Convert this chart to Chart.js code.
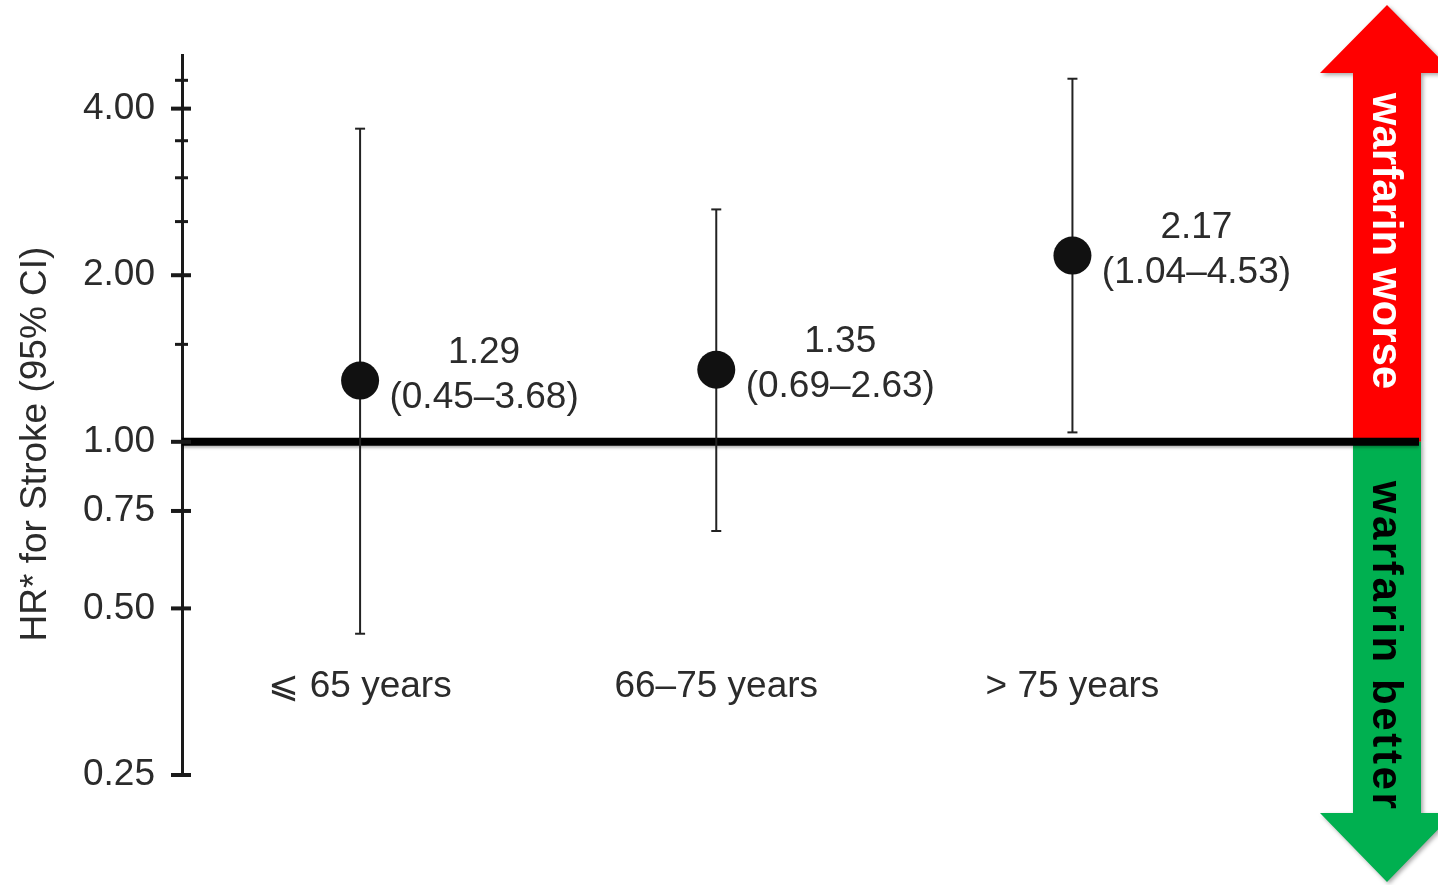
<!DOCTYPE html>
<html>
<head>
<meta charset="utf-8">
<script src="https://cdn.jsdelivr.net/npm/chart.js@4.4.1/dist/chart.umd.min.js"></script>
<style>
  html, body { margin: 0; padding: 0; background: #ffffff; }
  #wrap { width: 1438px; height: 885px; position: relative; }
</style>
</head>
<body>
<div id="wrap"><canvas id="chart"></canvas></div>
<script>
// Hazard ratios for stroke by age group, with 95% confidence intervals
const ageGroups = ['\u2A7D 65 years', '66\u201375 years', '> 75 years'];
const hazardRatio = [1.29, 1.35, 2.17];
const ciLower = [0.45, 0.69, 1.04];
const ciUpper = [3.68, 2.63, 4.53];

// Log-scale ticks on the HR axis; only some carry a label
const yTickValues = [0.25, 0.5, 0.75, 1, 1.5, 2, 2.5, 3, 3.5, 4, 4.5];
const yLabelledTicks = [0.25, 0.5, 0.75, 1, 2, 4];

const yTitle = 'HR* for Stroke (95% CI)';
const upLabel = 'warfarin worse';
const downLabel = 'warfarin better';

const FONT = "'Liberation Sans', Arial, Helvetica, sans-serif";
const TEXT = '#2b2b2b';
const SIZE = 37;

const fmt = v => v.toFixed(2);

// Vertical whiskers: one segment per group, broken by a gap point
const whiskerData = [];
ageGroups.forEach((g, i) => {
  whiskerData.push({ x: i + 1, y: ciLower[i] });
  whiskerData.push({ x: i + 1, y: ciUpper[i] });
  whiskerData.push({ x: i + 1, y: null });
});
const capData = [];
ageGroups.forEach((g, i) => {
  capData.push({ x: i + 1, y: ciLower[i] });
  capData.push({ x: i + 1, y: ciUpper[i] });
});
const pointData = hazardRatio.map((v, i) => ({ x: i + 1, y: v }));

function drawArrow(ctx, cx, baseY, tipY, headY, shaftHalf, headHalf, color) {
  ctx.save();
  ctx.shadowColor = 'rgba(0,0,0,0.35)';
  ctx.shadowBlur = 4;
  ctx.shadowOffsetX = 2;
  ctx.shadowOffsetY = 2;
  ctx.fillStyle = color;
  ctx.beginPath();
  ctx.moveTo(cx - shaftHalf, baseY);
  ctx.lineTo(cx - shaftHalf, headY);
  ctx.lineTo(cx - headHalf, headY);
  ctx.lineTo(cx, tipY);
  ctx.lineTo(cx + headHalf, headY);
  ctx.lineTo(cx + shaftHalf, headY);
  ctx.lineTo(cx + shaftHalf, baseY);
  ctx.closePath();
  ctx.fill();
  ctx.restore();
}

function drawRotatedText(ctx, text, x, y, font, color, spacing) {
  ctx.save();
  ctx.translate(x, y);
  ctx.rotate(Math.PI / 2);
  ctx.font = font;
  ctx.fillStyle = color;
  if (spacing && 'letterSpacing' in ctx) ctx.letterSpacing = spacing;
  ctx.textAlign = 'center';
  ctx.textBaseline = 'middle';
  ctx.fillText(text, 0, 0);
  ctx.restore();
}

const decorations = {
  id: 'decorations',
  beforeDatasetsDraw(chart) {
    const ctx = chart.ctx;
    const y = chart.scales.y;
    const area = chart.chartArea;
    const oneY = y.getPixelForValue(1);

    // Direction arrows at the right edge
    drawArrow(ctx, 1387, oneY, 5, 73, 34, 67, '#ff0000');
    drawArrow(ctx, 1387, oneY, 882, 813, 34, 67, '#00b050');
    drawRotatedText(ctx, upLabel, 1385, 241, 'bold 42px ' + FONT, '#ffffff');
    drawRotatedText(ctx, downLabel, 1385, 646, 'bold 42px ' + FONT, '#000000', '2.6px');

    // Reference line at HR = 1
    ctx.save();
    ctx.shadowColor = 'rgba(0,0,0,0.3)';
    ctx.shadowBlur = 3;
    ctx.shadowOffsetY = 2;
    ctx.strokeStyle = '#000000';
    ctx.lineWidth = 8;
    ctx.beginPath();
    ctx.moveTo(area.left, oneY);
    ctx.lineTo(area.right, oneY);
    ctx.stroke();
    ctx.restore();
  },
  afterDatasetsDraw(chart) {
    const ctx = chart.ctx;
    const xs = chart.scales.x;
    const ys = chart.scales.y;
    ctx.save();
    ctx.font = SIZE + 'px ' + FONT;
    ctx.fillStyle = TEXT;
    ctx.textAlign = 'center';
    ctx.textBaseline = 'middle';
    hazardRatio.forEach((v, i) => {
      const px = xs.getPixelForValue(i + 1);
      const py = ys.getPixelForValue(v);
      ctx.fillText(fmt(v), px + 124, py - 28);
      ctx.fillText('(' + fmt(ciLower[i]) + '\u2013' + fmt(ciUpper[i]) + ')', px + 124, py + 17);
    });
    ctx.restore();
  },
  afterDraw(chart) {
    const ctx = chart.ctx;
    const ys = chart.scales.y;
    const axisX = chart.chartArea.left;
    // Tick marks crossing the HR axis
    ctx.save();
    ctx.strokeStyle = '#1a1a1a';
    ys.ticks.forEach(t => {
      const py = ys.getPixelForValue(t.value);
      const major = yLabelledTicks.includes(t.value);
      ctx.lineWidth = major ? 4 : 3;
      ctx.beginPath();
      ctx.moveTo(axisX - (major ? 11 : 7), py);
      ctx.lineTo(axisX + (major ? 9 : 6), py);
      ctx.stroke();
    });
    // Axis title
    ctx.translate(36, 444);
    ctx.rotate(-Math.PI / 2);
    ctx.font = SIZE + 'px ' + FONT;
    ctx.fillStyle = TEXT;
    ctx.textAlign = 'center';
    ctx.textBaseline = 'middle';
    ctx.fillText(yTitle, 0, 0);
    ctx.restore();
  }
};

new Chart(document.getElementById('chart'), {
  type: 'scatter',
  data: {
    datasets: [
      {
        type: 'line',
        data: whiskerData,
        borderColor: '#222222',
        borderWidth: 2,
        pointRadius: 0,
        spanGaps: false,
        fill: false,
        order: 3
      },
      {
        type: 'scatter',
        data: capData,
        pointStyle: 'line',
        pointRadius: 5,
        borderColor: '#222222',
        borderWidth: 2,
        order: 2
      },
      {
        type: 'scatter',
        data: pointData,
        pointRadius: 19,
        backgroundColor: '#111111',
        borderColor: '#111111',
        borderWidth: 0,
        order: 1
      }
    ]
  },
  options: {
    responsive: true,
    maintainAspectRatio: false,
    animation: false,
    events: [],
    layout: { padding: { left: 0, right: 16, top: 55, bottom: 110 } },
    plugins: {
      legend: { display: false },
      tooltip: { enabled: false }
    },
    scales: {
      x: {
        type: 'linear',
        min: 0.5,
        max: 3.973,
        offset: false,
        position: { y: 0.396 },
        grid: { display: false, drawTicks: false },
        border: { display: false },
        afterBuildTicks: s => { s.ticks = ageGroups.map((g, i) => ({ value: i + 1 })); },
        ticks: {
          padding: 0,
          autoSkip: false,
          maxRotation: 0,
          color: TEXT,
          font: { family: FONT, size: SIZE },
          callback: (v) => ageGroups[Math.round(v) - 1] || ''
        }
      },
      y: {
        type: 'logarithmic',
        min: 0.25,
        max: 5,
        position: 'left',
        afterFit: s => { s.width = 182; },
        afterBuildTicks: s => { s.ticks = yTickValues.map(v => ({ value: v })); },
        grid: { drawOnChartArea: false, drawTicks: false },
        border: { display: true, color: '#1a1a1a', width: 3 },
        ticks: {
          padding: 27,
          autoSkip: false,
          color: TEXT,
          font: { family: FONT, size: SIZE },
          callback: (v) => yLabelledTicks.includes(v) ? fmt(v) : ''
        }
      }
    }
  },
  plugins: [decorations]
});
</script>
</body>
</html>
